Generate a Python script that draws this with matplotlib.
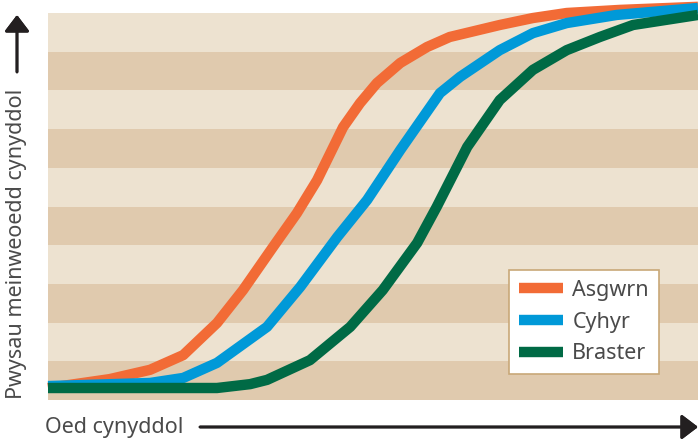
import matplotlib
matplotlib.use("Agg")
import matplotlib.pyplot as plt
from matplotlib.patches import ArrowStyle

plt.rcParams['font.family'] = ['Noto Sans', 'DejaVu Sans']

# curve data, x: 0-100 (age), y: 0-100 (share of adult tissue weight)
bone_x = [0, 9.5, 15.7, 20.8, 26, 30, 34.6, 38.3, 41.4, 45.4, 48, 50.6, 54.2, 58.3, 61.8, 69.5, 74.6, 79.8, 88, 100]
bone_y = [3.1, 5.4, 7.8, 11.6, 19.9, 28.4, 39.5, 48.3, 56.8, 70.5, 76.7, 81.9, 87.1, 91.2, 93.8, 96.9, 98.7, 100, 100.8, 101.6]

muscle_x = [0, 15.7, 20.8, 26, 33.7, 38.8, 44.5, 49.1, 54.2, 60.3, 63.4, 69.5, 74.6, 79.8, 87.5, 100]
muscle_y = [3.6, 4.4, 5.7, 9.6, 18.9, 29.2, 42.1, 51.7, 64.6, 79.3, 83.5, 90.4, 94.8, 97.4, 99.5, 101.3]

fat_x = [0, 15.7, 26, 31.1, 33.7, 40.3, 46.5, 51.5, 56.8, 59.8, 64.5, 69.5, 74.6, 79.8, 84.9, 90, 100]
fat_y = [3.1, 3.1, 3.1, 4.1, 5.2, 10.3, 18.9, 28.4, 40.6, 49.9, 65.4, 77.5, 85.3, 90.4, 93.8, 96.9, 99.5]

labels = ['Asgwrn', 'Cyhyr', 'Braster']
n_bands = 10

light = '#EDE2D0'
dark = '#E0CAAE'
colors = ['#F26B36', '#0099D8', '#006A45']
txt = '#4A4A4A'
ink = '#231F20'

fig = plt.figure(figsize=(6.98, 4.41), dpi=100)
ax = fig.add_axes([48/698, 41/441, 650/698, 387/441])

step = 100 / n_bands
for i in range(n_bands):
    ax.axhspan(i*step, (i+1)*step, color=dark if i % 2 == 0 else light, lw=0, zorder=0)

for xs, ys, c, lab in zip([bone_x, muscle_x, fat_x], [bone_y, muscle_y, fat_y], colors, labels):
    ax.plot(xs, ys, color=c, lw=7.5, solid_joinstyle='round', solid_capstyle='butt',
            label=lab, clip_on=False, zorder=3)

ax.set_xlim(0, 100)
ax.set_ylim(0, 100)
ax.axis('off')

leg = ax.legend(loc='lower left', bbox_to_anchor=(0.709, 0.067), borderaxespad=0,
                fontsize=15.5, frameon=True, fancybox=False, framealpha=1,
                edgecolor='#C8A878', handlelength=2.05, handletextpad=0.45,
                labelspacing=0.5, borderpad=0.45)
leg.get_frame().set_linewidth(1.2)
for t in leg.get_texts():
    t.set_color(txt)

# axis labels with arrows
fig.text(45/698, 1-427/441, 'Oed cynyddol', fontsize=15.5, color=txt, ha='left', va='center')
fig.text(17/698, 1-244/441, 'Pwysau meinweoedd cynyddol', fontsize=15.5, color=txt,
         rotation=90, ha='center', va='center')

style = ArrowStyle('-|>', head_length=0.5, head_width=0.38)
fig.add_artist(plt.annotate('', xy=(17/698, 1-15/441), xytext=(17/698, 1-72/441),
                            xycoords='figure fraction', textcoords='figure fraction',
                            arrowprops=dict(arrowstyle=style, lw=2, color=ink,
                                            mutation_scale=20, shrinkA=0, shrinkB=0)))
fig.add_artist(plt.annotate('', xy=(698/698, 1-427/441), xytext=(200/698, 1-427/441),
                            xycoords='figure fraction', textcoords='figure fraction',
                            arrowprops=dict(arrowstyle=style, lw=2, color=ink,
                                            mutation_scale=20, shrinkA=0, shrinkB=0)))

fig.savefig('out.png', dpi=100)
